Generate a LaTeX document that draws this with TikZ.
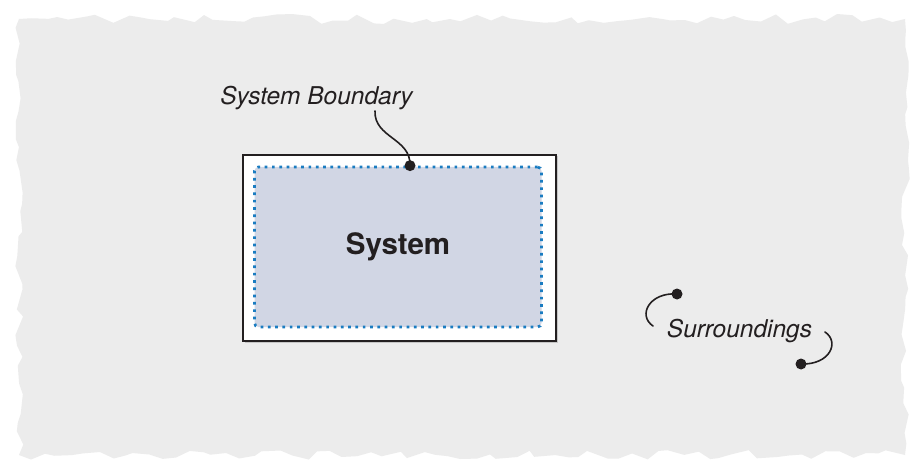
\documentclass[tikz,border=0pt]{standalone}
\usepackage{fontspec}
\setmainfont{TeX Gyre Heros}
\usetikzlibrary{calc,shadows,decorations.pathmorphing}

\definecolor{ink}{HTML}{231F20}
\definecolor{paper}{HTML}{ECECEC}
\definecolor{sysfill}{HTML}{D1D6E4}
\definecolor{sysblue}{HTML}{1A7CC1}

\begin{document}
\begin{tikzpicture}[x=1pt, y=-1pt,
	tag/.style={font=\itshape\fontsize{24.5}{28}\selectfont, text=ink, inner sep=0pt},
	pindot/.style={circle, fill=ink, minimum size=11pt, inner sep=0pt},
	leader/.style={line width=1.6pt, draw=ink, line cap=round},
	]

	\useasboundingbox[fill=white] (0,0) rectangle (920,473);
	\fill[paper, decorate, decoration={random steps, segment length=13pt, amplitude=5pt}]
		(19,19) rectangle (905,455);

	\node[draw=ink, line width=1.3pt, fill=white, minimum width=313pt, minimum height=186pt,
		drop shadow={shadow xshift=1.5pt, shadow yshift=-1.5pt, opacity=.35}] (outer) at (399.5,248) {};
	\node[fill=sysfill, draw=sysblue, line width=2.7pt, dash pattern=on 2.7pt off 4.6pt,
		rounded corners=4pt, minimum width=287pt, minimum height=160pt,
		font=\bfseries\fontsize{29.5}{32}\selectfont, text=ink] (sys) at (398,247) {System};

	\node[tag] (boundary) at (316.5,98) {System Boundary};
	\node[tag] (surr) at (739.5,331) {Surroundings};

	\node[pindot] (bdot) at ($(sys.north)+(12,0)$) {};
	\node[pindot] (sdotA) at (677,294) {};
	\node[pindot] (sdotB) at (801,364) {};

	\coordinate (bstart) at (375,111);
	\coordinate (sendA) at (653,326);
	\coordinate (sendB) at (825,332);

	\draw[leader] (bstart) .. controls (374,138) and (411,138) .. (bdot.center);
	\draw[leader] (sdotA.center) .. controls (650,292) and (637,315) .. (sendA);
	\draw[leader] (sendB) .. controls (840,342) and (830,365) .. (sdotB.center);

\end{tikzpicture}
\end{document}
